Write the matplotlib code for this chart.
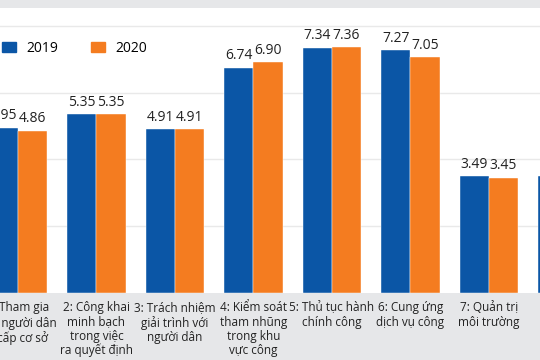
import matplotlib
matplotlib.use("Agg")
import matplotlib.pyplot as plt
from matplotlib.patches import Patch
import numpy as np

plt.rcParams['font.family'] = ['Open Sans', 'DejaVu Sans']

# chỉ số PAPI theo từng nội dung
nhan = [
    "1: Tham gia\ncủa người dân\nở cấp cơ sở",
    "2: Công khai\nminh bạch\ntrong việc\nra quyết định",
    "3: Trách nhiệm\ngiải trình với\nngười dân",
    "4: Kiểm soát\ntham nhũng\ntrong khu\nvực công",
    "5: Thủ tục hành\nchính công",
    "6: Cung ứng\ndịch vụ công",
    "7: Quản trị\nmôi trường",
    "8: Quản trị\nđiện tử",
]
nam_2019 = [4.95, 5.35, 4.91, 6.74, 7.34, 7.27, 3.49, 3.50]
nam_2020 = [4.86, 5.35, 4.91, 6.90, 7.36, 7.05, 3.45, 3.60]

xanh = '#0b56a6'
cam = '#f47c20'
nen = '#e6e7e9'

fig = plt.figure(figsize=(5.4, 3.6), dpi=100, facecolor=nen)
ax = fig.add_axes([0, 67 / 360, 1, 285 / 360])
ax.set_facecolor('white')

x = np.arange(len(nhan))
w = 0.37
b1 = ax.bar(x - w / 2, nam_2019, w, color=xanh, edgecolor='white', linewidth=0.3, zorder=3)
b2 = ax.bar(x + w / 2, nam_2020, w, color=cam, edgecolor='white', linewidth=0.3, zorder=3)

for thanh, gt in zip(list(b1) + list(b2), nam_2019 + nam_2020):
    ax.text(thanh.get_x() + thanh.get_width() / 2, gt + 0.13, f"{gt:.2f}",
            ha='center', va='bottom', fontsize=10, color='#222222')

ax.set_yticks([2, 4, 6, 8])
ax.set_yticklabels([])
ax.tick_params(axis='y', length=0)
ax.grid(axis='y', color='#e9e9e9', linewidth=1, zorder=0)
ax.set_xticks(x)
ax.set_xticklabels(nhan, fontsize=8.5, color='#222222', linespacing=1.12)
ax.tick_params(axis='x', length=0, pad=6)
ax.set_xlim(-0.229, 6.65)
ax.set_ylim(0, 8.53)
for s in ax.spines.values():
    s.set_visible(False)

tay = [Patch(color=xanh), Patch(color=cam)]
fig.legend(tay, ['2019', '2020'], ncol=2, frameon=False, fontsize=10,
           loc='center left', bbox_to_anchor=(2 / 540, 1 - 48.5 / 360),
           borderpad=0, borderaxespad=0, handlelength=1.0, handleheight=0.65,
           handletextpad=0.72, columnspacing=2.4)

fig.savefig('out.png', dpi=100, facecolor=nen)
